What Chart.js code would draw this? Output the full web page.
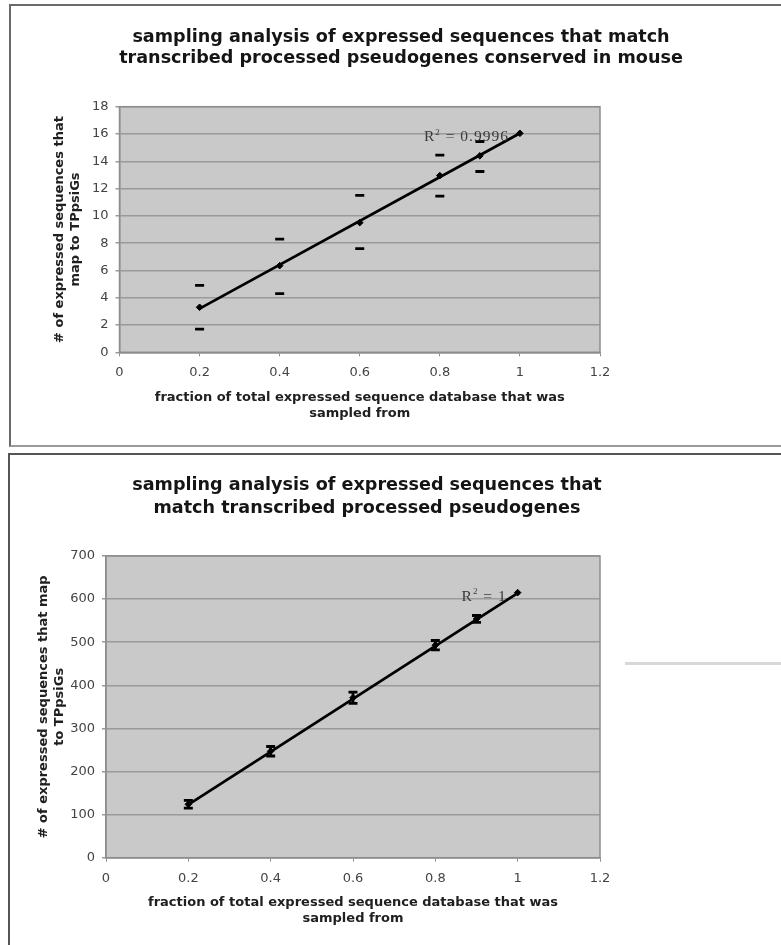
<!DOCTYPE html>
<html>
<head>
<meta charset="utf-8">
<script src="https://cdn.jsdelivr.net/npm/chart.js@4.4.1/dist/chart.umd.min.js"></script>
<style>
  html, body { margin: 0; padding: 0; background: #fff; }
  body { width: 781px; height: 945px; position: relative; overflow: hidden; }
  .panel { position: absolute; box-sizing: border-box; }
  #p1 { left: 9px; top: 4px; width: 800px; height: 443px; border: 2px solid #6a6a6a; border-bottom-color: #9a9a9a; }
  #p2 { left: 8px; top: 453px; width: 800px; height: 600px; border: 2px solid #555; }
  #artifact { position: absolute; left: 625px; top: 662px; width: 160px; height: 3px; background: #d8d8d8; }
  .wrap { position: absolute; left: 0; width: 781px; }
  #w1 { top: 0; height: 450px; }
  #w2 { top: 450px; height: 495px; }
</style>
</head>
<body>
<div class="panel" id="p1"></div>
<div class="panel" id="p2"></div>
<div id="artifact"></div>
<div class="wrap" id="w1"><canvas id="c1" width="781" height="450"></canvas></div>
<div class="wrap" id="w2"><canvas id="c2" width="781" height="495"></canvas></div>
<script>
// ---------- data ----------
const xValues = [0.2, 0.4, 0.6, 0.8, 0.9, 1.0];
const xTickLabels = ['0', '0.2', '0.4', '0.6', '0.8', '1', '1.2'];

// chart 1: conserved in mouse
const mouseMeans = [3.3, 6.35, 9.5, 12.95, 14.4, 16.05];
const mouseUpper = [4.9, 8.3, 11.5, 14.45, 15.45, null];
const mouseLower = [1.7, 4.3, 7.6, 11.45, 13.25, null];
const mouseTrendX = [0.2, 1.0];
const mouseTrendY = [3.2, 16.05];
const mouseR2 = '0.9996';

// chart 2: all transcribed processed pseudogenes
const allMeans = [124, 247, 371, 493, 554, 615];
const allUpper = [133, 258, 384, 504, 562, null];
const allLower = [115, 236, 358, 482, 546, null];
const allTrendX = [0.2, 1.0];
const allTrendY = [123, 614];
const allR2 = '1';

const title1 = ['sampling analysis of expressed sequences that match',
                'transcribed processed pseudogenes conserved in mouse'];
const title2 = ['sampling analysis of expressed sequences that',
                'match transcribed processed pseudogenes'];
const xTitle = ['fraction of total expressed sequence database that was', 'sampled from'];
const yTitle1 = ['# of expressed sequences that', 'map to TPpsiGs'];
const yTitle2 = ['# of expressed sequences that map', 'to TPpsiGs'];

// ---------- helpers ----------
function pts(xs, ys) {
  const out = [];
  xs.forEach((x, i) => { if (ys[i] !== null) out.push({x: x, y: ys[i]}); });
  return out;
}
function capPts(xs, lo, hi) {
  const out = [];
  xs.forEach((x, i) => {
    if (lo[i] === null || hi[i] === null) return;
    out.push({x: x, y: lo[i]}, {x: x, y: hi[i]}, {x: x, y: null});
  });
  return out;
}

const plotFrame = {
  id: 'plotFrame',
  beforeDraw(chart) {
    const {ctx, chartArea: a} = chart;
    ctx.save();
    ctx.fillStyle = '#c9c9c9';
    ctx.fillRect(a.left, a.top, a.right - a.left, a.bottom - a.top);
    ctx.restore();
  },
  beforeDatasetsDraw(chart) {
    const {ctx, chartArea: a} = chart;
    ctx.save();
    ctx.strokeStyle = '#8e8e8e';
    ctx.lineWidth = 1.5;
    ctx.strokeRect(a.left, a.top, a.right - a.left, a.bottom - a.top);
    ctx.restore();
  }
};

const panelText = {
  id: 'panelText',
  afterDraw(chart, args, opts) {
    const ctx = chart.ctx;
    ctx.save();
    // chart title
    ctx.fillStyle = '#151515';
    ctx.font = 'bold 17.6px "DejaVu Sans"';
    ctx.textAlign = 'center';
    ctx.textBaseline = 'middle';
    opts.title.forEach((line, i) => ctx.fillText(line, opts.titleX, opts.titleY[i]));
    // R^2 label next to last point of trend line
    const xs = chart.scales.x, ys = chart.scales.y;
    const px = xs.getPixelForValue(opts.r2x) - 11;
    const py = ys.getPixelForValue(opts.r2y) + 4;
    ctx.fillStyle = '#3a3a3a';
    ctx.textAlign = 'left';
    ctx.textBaseline = 'middle';
    if ('letterSpacing' in ctx) ctx.letterSpacing = '1px';
    const big = '15.5px "Liberation Serif"', small = '9px "Liberation Serif"';
    const rest = ' = ' + opts.r2;
    ctx.font = big; const wR = ctx.measureText('R').width; const wRest = ctx.measureText(rest).width;
    ctx.font = small; const wS = ctx.measureText('2').width;
    let x = px - (wR + wS + wRest);
    ctx.font = big; ctx.fillText('R', x, py); x += wR;
    ctx.font = small; ctx.fillText('2', x, py - 5); x += wS;
    ctx.font = big; ctx.fillText(rest, x, py);
    ctx.restore();
  }
};

function makeChart(id, cfg) {
  const axisFont = {family: 'DejaVu Sans', size: 13};
  const titleFont = {family: 'DejaVu Sans', size: 13, weight: 'bold', lineHeight: '16px'};
  return new Chart(document.getElementById(id), {
    type: 'scatter',
    data: {
      datasets: [
        { // trend line
          type: 'line', data: pts(cfg.trendX, cfg.trendY), showLine: true,
          borderColor: '#000', borderWidth: 2.8, pointRadius: 0, fill: false, order: 3
        },
        { // error bars
          type: 'line', data: capPts(xValues, cfg.lower, cfg.upper), showLine: cfg.errLines,
          spanGaps: false, borderColor: '#000', borderWidth: 2.8,
          pointStyle: 'line', pointRadius: 4.5, pointBorderWidth: 2.8,
          pointBorderColor: '#000', pointBackgroundColor: '#000', order: 2
        },
        { // means
          data: pts(xValues, cfg.means), pointStyle: 'rectRot', pointRadius: 3.3,
          pointBackgroundColor: '#000', pointBorderColor: '#000', pointBorderWidth: 1, order: 1
        }
      ]
    },
    options: {
      responsive: false,
      animation: false,
      events: [],
      layout: {padding: {left: 0, right: 181, top: cfg.top, bottom: cfg.bottomPad}},
      plugins: {
        legend: {display: false},
        tooltip: {enabled: false},
        panelText: {title: cfg.title, titleX: cfg.titleX, titleY: cfg.titleY,
                    r2: cfg.r2, r2x: cfg.trendX[1], r2y: cfg.trendY[1]}
      },
      scales: {
        x: {
          type: 'linear', min: 0, max: 1.2,
          afterFit: s => { s.height = cfg.xH; },
          ticks: {stepSize: 0.2, padding: 9, color: '#444', font: axisFont,
                  callback: (v, i) => xTickLabels[i]},
          grid: {drawOnChartArea: false, drawTicks: true, tickLength: 4, color: '#8e8e8e'},
          border: {color: '#8e8e8e', width: 1.5},
          title: {display: true, text: xTitle, color: '#202020', font: titleFont,
                  padding: {top: 0, bottom: 0}}
        },
        y: {
          type: 'linear', min: 0, max: cfg.yMax,
          afterFit: s => { s.width = cfg.yW; },
          ticks: {stepSize: cfg.yStep, padding: 7, color: '#444', font: axisFont},
          grid: {color: '#9a9a9a', lineWidth: 1.5, drawTicks: true, tickLength: 4},
          border: {color: '#8e8e8e', width: 1.5},
          title: {display: true, text: cfg.yTitle, color: '#202020', font: titleFont,
                  padding: {top: cfg.yTitlePad, bottom: 0}}
        }
      }
    },
    plugins: [plotFrame, panelText]
  });
}

makeChart('c1', {
  means: mouseMeans, upper: mouseUpper, lower: mouseLower, errLines: false,
  trendX: mouseTrendX, trendY: mouseTrendY, r2: mouseR2,
  title: title1, titleX: 401, titleY: [37.5, 58], yTitle: yTitle1,
  yMax: 18, yStep: 2, yW: 119.5, yTitlePad: 52, top: 106.7, bottomPad: 28.7, xH: 69
});
makeChart('c2', {
  means: allMeans, upper: allUpper, lower: allLower, errLines: true,
  trendX: allTrendX, trendY: allTrendY, r2: allR2,
  title: title2, titleX: 367, titleY: [35.5, 58], yTitle: yTitle2,
  yMax: 700, yStep: 100, yW: 106, yTitlePad: 36, top: 106, bottomPad: 18, xH: 69.3
});
</script>
</body>
</html>
